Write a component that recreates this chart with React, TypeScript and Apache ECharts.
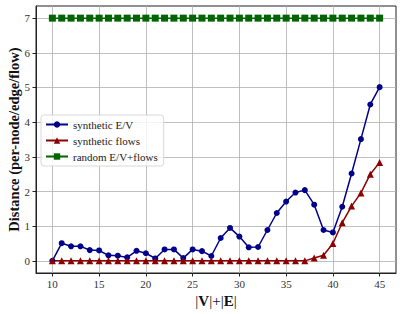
import React, { useEffect, useRef } from "react";
import * as echarts from "echarts";

const xValues = [10, 11, 12, 13, 14, 15, 16, 17, 18, 19, 20, 21, 22, 23, 24, 25, 26, 27, 28, 29, 30, 31, 32, 33, 34, 35, 36, 37, 38, 39, 40, 41, 42, 43, 44, 45];
const syntheticEV = [0, 0.51, 0.42, 0.42, 0.31, 0.3, 0.16, 0.15, 0.1, 0.29, 0.22, 0.07, 0.33, 0.33, 0.08, 0.33, 0.28, 0.14, 0.66, 0.95, 0.7, 0.39, 0.4, 0.89, 1.38, 1.71, 1.97, 2.04, 1.62, 0.89, 0.82, 1.56, 2.52, 3.51, 4.51, 5.01];
const syntheticFlows = [0, 0, 0, 0, 0, 0, 0, 0, 0, 0, 0, 0, 0, 0, 0, 0, 0, 0, 0, 0, 0, 0, 0, 0, 0, 0, 0, 0, 0.08, 0.16, 0.5, 1.1, 1.58, 1.96, 2.5, 2.84];
const randomEVFlows = [7, 7, 7, 7, 7, 7, 7, 7, 7, 7, 7, 7, 7, 7, 7, 7, 7, 7, 7, 7, 7, 7, 7, 7, 7, 7, 7, 7, 7, 7, 7, 7, 7, 7, 7, 7];
const xTicks = [10, 15, 20, 25, 30, 35, 40, 45];
const yTicks = [0, 1, 2, 3, 4, 5, 6, 7];
const seriesNames = ["synthetic E/V", "synthetic flows", "random E/V+flows"];

const FONT = "'Liberation Serif', 'DejaVu Serif', serif";

export default function App() {
  const ref = useRef<HTMLDivElement>(null);
  useEffect(() => {
    if (!ref.current) return;
    const chart = echarts.init(ref.current, null, { renderer: "svg" });
    const pair = (ys: number[]) => xValues.map((x, i) => [x, ys[i]]);
    const gridLine = { show: true, lineStyle: { color: "#b0b0b0", width: 0.8 } };
    chart.setOption({
      animation: false,
      backgroundColor: "#fff",
      grid: {
        left: 36, right: 20, top: 6, bottom: 41,
        containLabel: false, outerBoundsMode: "none",
        show: true, borderColor: "#222", borderWidth: 1,
      },
      legend: {
        orient: "vertical",
        left: 41,
        top: 115,
        itemWidth: 22,
        itemHeight: 8,
        itemGap: 5,
        padding: [4, 6, 4, 4],
        backgroundColor: "rgba(255,255,255,0.8)",
        borderColor: "#d8d8d8",
        borderWidth: 1,
        borderRadius: 3,
        textStyle: { fontFamily: FONT, fontSize: 11, color: "#222" },
        data: seriesNames,
      },
      xAxis: {
        type: "value",
        min: 8.25,
        max: 46.75,
        name: "{p||}{b|V}{p||+|}{b|E}{p||}",
        nameLocation: "middle",
        nameGap: 20,
        nameMoveOverlap: false,
        nameTextStyle: {
          fontFamily: FONT, fontSize: 15, color: "#111", verticalAlign: "top",
          rich: {
            p: { fontFamily: FONT, fontSize: 15, color: "#111" },
            b: { fontFamily: FONT, fontSize: 15, fontWeight: "bold", color: "#111" },
          },
        },
        axisLine: { show: true, onZero: false, lineStyle: { color: "#222" } },
        axisTick: { show: true, length: 3.5, customValues: xTicks, lineStyle: { color: "#222" } },
        axisLabel: { customValues: xTicks, fontFamily: FONT, fontSize: 11, color: "#333", margin: 5 },
        splitLine: { ...gridLine, customValues: xTicks },
      },
      yAxis: {
        type: "value",
        min: -0.35,
        max: 7.35,
        name: "Distance (per-node/edge/flow)",
        nameLocation: "middle",
        nameGap: 15,
        nameMoveOverlap: false,
        nameTextStyle: { fontFamily: FONT, fontSize: 14.5, fontWeight: "bold", color: "#111" },
        axisLine: { show: true, onZero: false, lineStyle: { color: "#222" } },
        axisTick: { show: true, length: 3.5, customValues: yTicks, lineStyle: { color: "#222" } },
        axisLabel: { customValues: yTicks, fontFamily: FONT, fontSize: 11, color: "#333", margin: 6 },
        splitLine: { ...gridLine, customValues: yTicks },
      },
      series: [
        {
          name: seriesNames[0],
          type: "line",
          data: pair(syntheticEV),
          symbol: "circle",
          symbolSize: 6,
          color: "#00008B",
          lineStyle: { width: 1.5, color: "#00008B" },
          itemStyle: { color: "#00008B" },
        },
        {
          name: seriesNames[1],
          type: "line",
          data: pair(syntheticFlows),
          symbol: "triangle",
          symbolSize: 7,
          color: "#8B0000",
          lineStyle: { width: 1.5, color: "#8B0000" },
          itemStyle: { color: "#8B0000" },
        },
        {
          name: seriesNames[2],
          type: "line",
          data: pair(randomEVFlows),
          symbol: "rect",
          symbolSize: 7,
          color: "#006400",
          lineStyle: { width: 1.5, color: "#006400" },
          itemStyle: { color: "#006400" },
        },
      ],
    });
    return () => chart.dispose();
  }, []);
  return <div ref={ref} style={{ position: "fixed", left: 0, top: 0, width: 416, height: 314 }} />;
}
